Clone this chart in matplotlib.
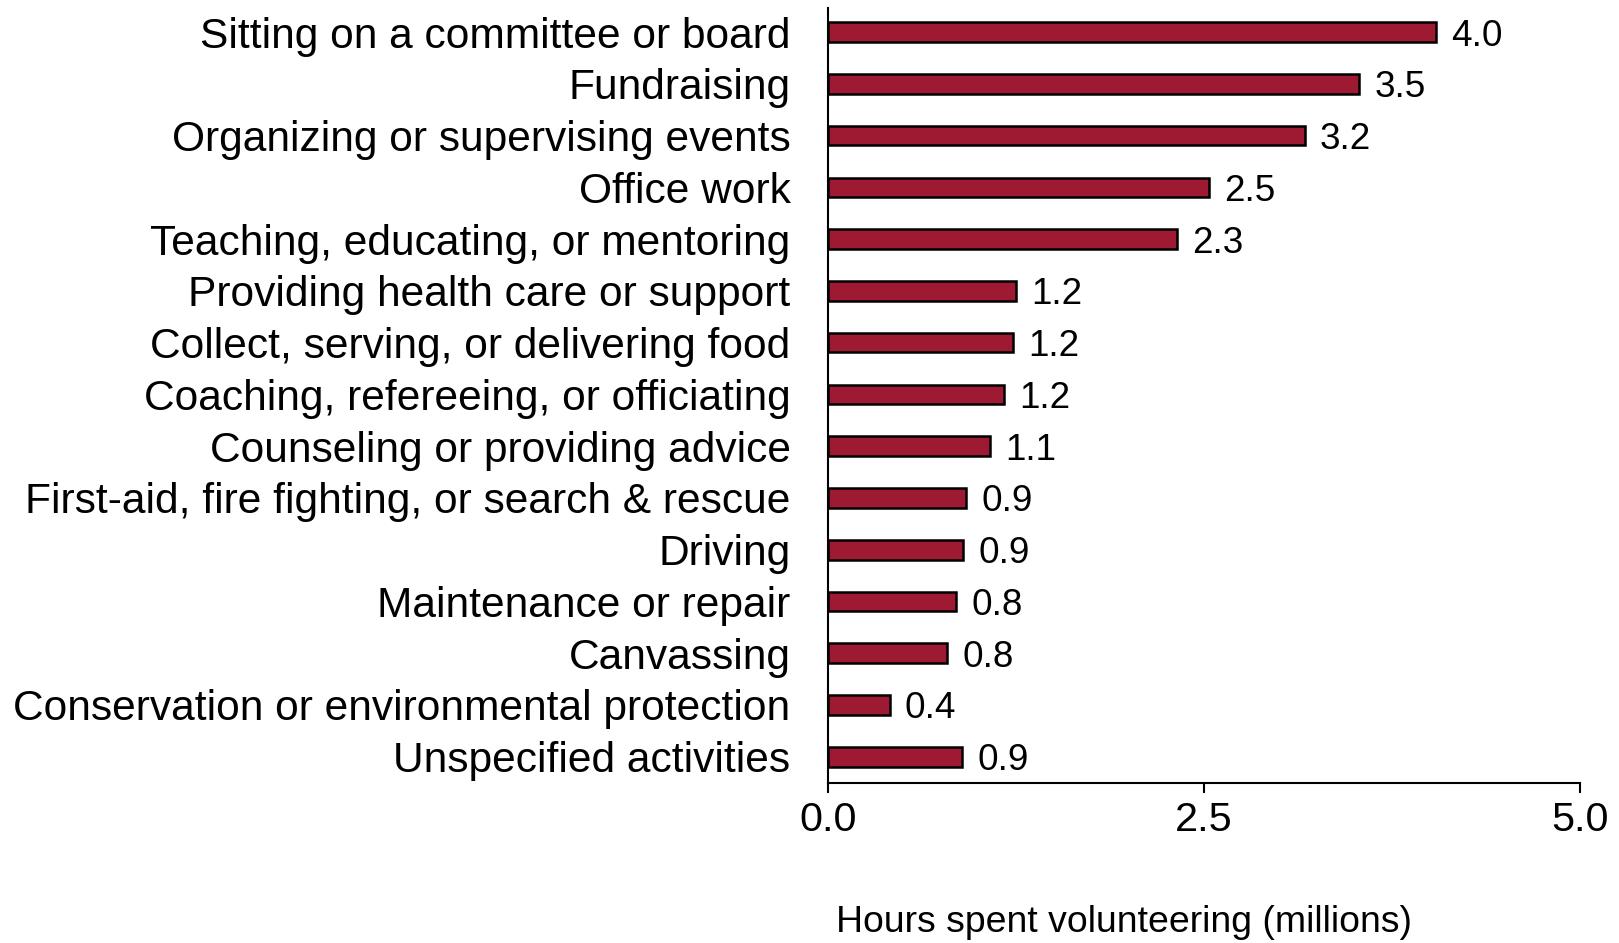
import matplotlib
matplotlib.use("Agg")
import matplotlib.pyplot as plt

categories = [
    "Sitting on a committee or board",
    "Fundraising",
    "Organizing or supervising events",
    "Office work",
    "Teaching, educating, or mentoring",
    "Providing health care or support",
    "Collect, serving, or delivering food",
    "Coaching, refereeing, or officiating",
    "Counseling or providing advice",
    "First-aid, fire fighting, or search & rescue",
    "Driving",
    "Maintenance or repair",
    "Canvassing",
    "Conservation or environmental protection",
    "Unspecified activities",
]
values = [4.04, 3.53, 3.17, 2.53, 2.32, 1.25, 1.23, 1.17, 1.08, 0.92, 0.90, 0.85, 0.79, 0.41, 0.89]
labels = ["4.0", "3.5", "3.2", "2.5", "2.3", "1.2", "1.2", "1.2", "1.1", "0.9", "0.9", "0.8", "0.8", "0.4", "0.9"]
xticks = [0.0, 2.5, 5.0]
xticklabels = ["0.0", "2.5", "5.0"]
xlabel = "Hours spent volunteering (millions)"

plt.rcParams['font.family'] = ['Liberation Sans', 'DejaVu Sans']

fig = plt.figure(figsize=(16.19, 9.43), dpi=100)
ax = fig.add_axes([828/1619, 1-782.6/943, (1580-828)/1619, (782.6-8.3)/943])

ypos = list(range(len(categories)))
bars = ax.barh(ypos, values, height=0.38, color="#9E1A32", edgecolor="black", linewidth=1.8)
for y, v, lab in zip(ypos, values, labels):
    ax.annotate(lab, xy=(v, y), xytext=(11, 0), textcoords="offset points",
                ha="left", va="center_baseline", fontsize=26.6)

ax.set_xlim(0, 5)
ax.set_ylim(len(categories) - 0.5, -0.46)
ax.set_yticks(ypos)
ax.set_yticklabels(categories, fontsize=30.6)
ax.set_xticks(xticks)
ax.set_xticklabels(xticklabels, fontsize=29.8)
ax.tick_params(axis="y", length=0, pad=27)
ax.tick_params(axis="x", length=7.5, width=1.5, pad=6)
for s in ["top", "right"]:
    ax.spines[s].set_visible(False)
for s in ["left", "bottom"]:
    ax.spines[s].set_linewidth(1.5)

fig.text(836/1619, 1-923/943, xlabel, ha="left", va="center", fontsize=26.9)

fig.savefig("out.png", dpi=100)
